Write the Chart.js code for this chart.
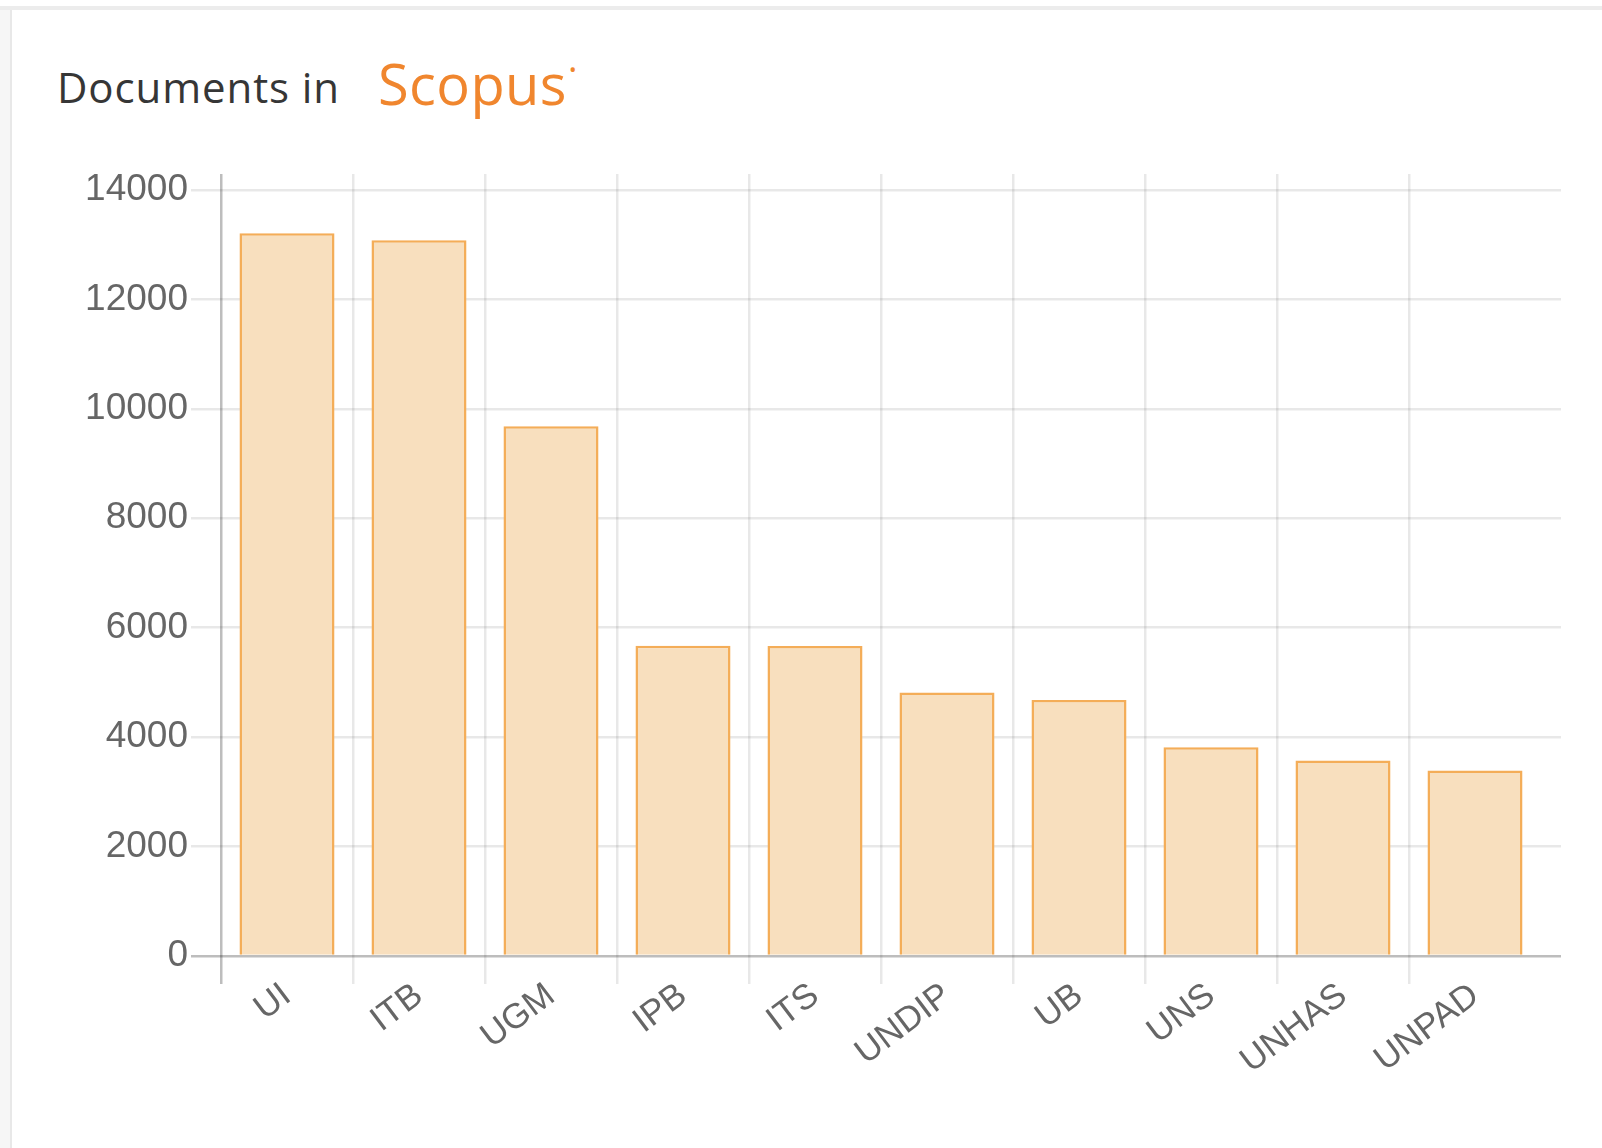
<!DOCTYPE html>
<html>
<head>
<meta charset="utf-8">
<title>Documents in Scopus</title>
<script src="https://cdn.jsdelivr.net/npm/chart.js@4.4.0/dist/chart.umd.min.js"></script>
<style>
  html, body { margin: 0; padding: 0; background: #fff; }
  body { width: 1602px; height: 1148px; position: relative; overflow: hidden; }
  .edge-top { position: absolute; left: 0; top: 6px; width: 1602px; height: 4px; background: #ececec; }
  .edge-left { position: absolute; left: 0; top: 10px; width: 10px; height: 1138px; background: #f6f6f6; border-right: 2px solid #e8e8e8; }
  #chart { position: absolute; left: 0; top: 0; }
  .title { position: absolute; white-space: nowrap; font-family: 'Open Sans', sans-serif; line-height: 1; }
  .title-docs { left: 57px; top: 66px; font-size: 42px; color: #363636; letter-spacing: 0.9px; }
  .title-scopus { left: 378px; top: 55px; font-size: 56px; color: #f0862e; letter-spacing: 0.4px; }
  .title-scopus sup { font-size: 20px; vertical-align: 28px; margin-left: 2px; }
</style>
</head>
<body>
<div class="edge-top"></div>
<div class="edge-left"></div>
<div class="title title-docs">Documents in</div>
<div class="title title-scopus">Scopus<sup>&#8226;</sup></div>
<canvas id="chart" width="1602" height="1148"></canvas>
<script>
// 数据
const universities = ['UI', 'ITB', 'UGM', 'IPB', 'ITS', 'UNDIP', 'UB', 'UNS', 'UNHAS', 'UNPAD'];
const documents = [13210, 13080, 9680, 5670, 5665, 4815, 4680, 3815, 3575, 3390];
const yMin = 0;
const yMax = 14000;
const yStep = 2000;

const GRID = 'rgba(0, 0, 0, 0.09)';
const AXIS = 'rgba(0, 0, 0, 0.26)';
const FONT_FAMILY = "'Liberation Sans', Arial, sans-serif";

// the y scale starts a little below the grid top, and the categories
// stop a little before the grid's right end (as in the original)
const insetScales = {
    id: 'insetScales',
    afterLayout(chart) {
        const x = chart.scales.x;
        const y = chart.scales.y;
        x.right -= 20;
        x.width -= 20;
        x.configure();
        y.top += 16;
        y.height -= 16;
        y.configure();
    }
};

const ctx = document.getElementById('chart').getContext('2d');
new Chart(ctx, {
    type: 'bar',
    data: {
        labels: universities,
        datasets: [{
            label: 'Documents',
            data: documents,
            backgroundColor: '#f8dfbe',
            borderColor: '#f4ad58',
            borderWidth: 2.5,
            categoryPercentage: 0.8,
            barPercentage: 0.9
        }]
    },
    options: {
        responsive: false,
        animation: false,
        devicePixelRatio: 1,
        layout: {
            padding: { left: 40, right: 41, top: 174, bottom: 0 }
        },
        plugins: {
            legend: { display: false },
            tooltip: { enabled: false },
            title: { display: false }
        },
        scales: {
            x: {
                offset: true,
                border: { display: false },
                grid: {
                    offset: true,
                    lineWidth: 2.5,
                    tickLength: 28,
                    color: (c) => c.type !== 'tick' ? 'rgba(0,0,0,0)' : (c.index === 0 ? AXIS : GRID)
                },
                ticks: {
                    autoSkip: false,
                    minRotation: 37,
                    maxRotation: 37,
                    padding: -9,
                    color: '#666',
                    font: { family: FONT_FAMILY, size: 35 }
                },
                afterFit(scale) { scale.height = 192; }
            },
            y: {
                min: yMin,
                max: yMax,
                border: { display: false },
                grid: {
                    lineWidth: 2.5,
                    tickLength: 30,
                    color: (c) => (c.tick && c.tick.value === 0) ? AXIS : GRID
                },
                ticks: {
                    stepSize: yStep,
                    padding: 3,
                    color: '#666',
                    font: { family: FONT_FAMILY, size: 37 },
                    callback: (value) => String(value)
                },
                afterFit(scale) { scale.width = 181; }
            }
        }
    },
    plugins: [insetScales]
});
</script>
</body>
</html>
